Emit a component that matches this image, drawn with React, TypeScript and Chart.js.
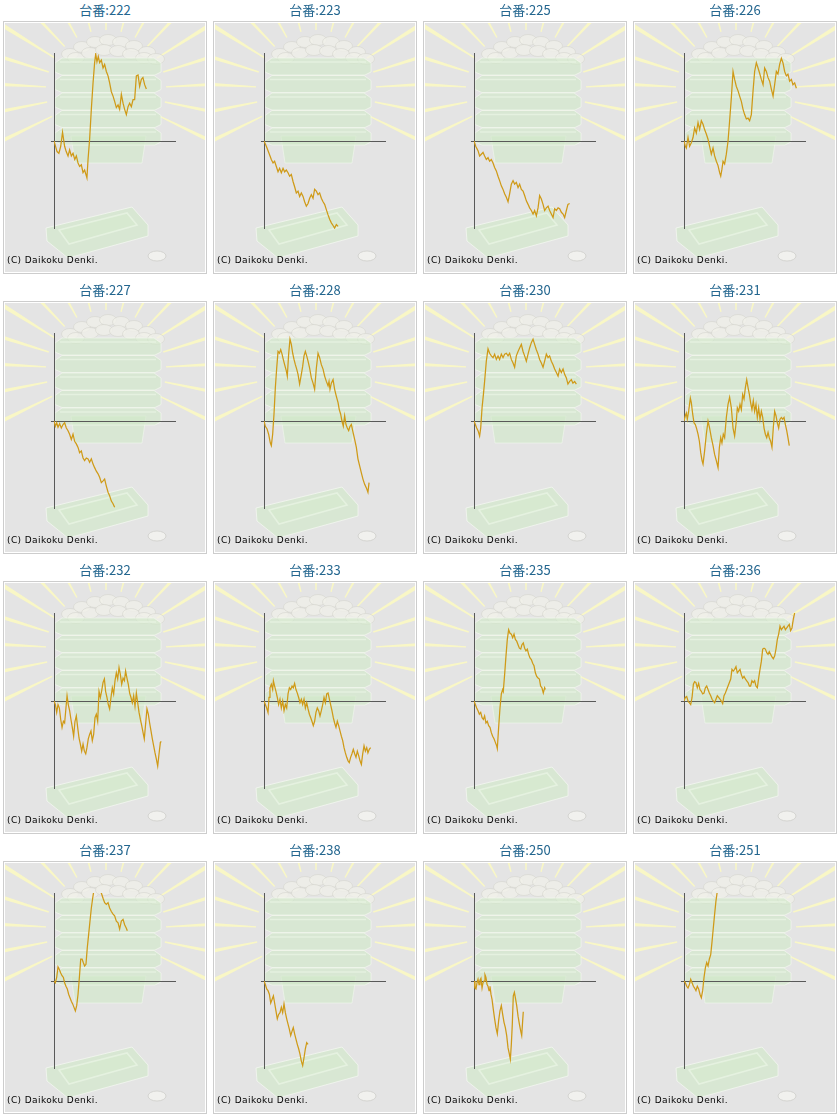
import React, { useEffect, useRef } from 'react'
import { Chart, registerables } from 'chart.js'

Chart.register(...registerables)

// ---------------------------------------------------------------------------
// data: [x, y] per point. x = share of the games axis (0..100),
// y = balance relative to the half height of the axis (-100..100)
// ---------------------------------------------------------------------------

const machineNos = ['222', '223', '225', '226', '227', '228', '230', '231', '232', '233', '235', '236', '237', '238', '250', '251']

const s222: [number, number][] = [[0, 0], [2.5, -12], [4, -14], [5.5, -6], [7, 10], [8.7, -6], [10, -12], [11.5, -17], [12.8, -10], [14.2, -17], [15.6, -14], [17, -21], [18.3, -17], [19.7, -25], [21, -29], [22.4, -27], [23.8, -36], [25.1, -33], [27, -42], [27.9, -21], [29.2, 2], [30.6, 36], [32, 66], [33.3, 89], [34.2, 99], [35.2, 90], [36.3, 96], [37.4, 89], [38.8, 92], [40.2, 83], [41.5, 87], [42.9, 79], [44.3, 74], [45.6, 66], [47, 56], [48.4, 51], [49.7, 45], [51.1, 38], [52.5, 41], [53.8, 36], [55.2, 53], [56.6, 43], [57.9, 36], [59.3, 30], [60.7, 39], [62, 43], [63.4, 39], [64.8, 47], [66.1, 47], [67.5, 74], [68.9, 75], [70.2, 62], [71.6, 70], [72.9, 72], [74.3, 64], [75.7, 59]]
const s223: [number, number][] = [[0, 0], [1.9, -6], [4.1, -14], [6, -21], [7.4, -25], [8.7, -23], [10.1, -29], [11.5, -35], [12.8, -31], [14.2, -36], [15.6, -31], [16.9, -35], [18.3, -33], [19.7, -36], [21, -40], [22.4, -38], [23.8, -46], [25.1, -52], [26.5, -59], [27.9, -57], [29.2, -63], [30.6, -59], [32, -63], [33.3, -69], [34.7, -74], [36.1, -71], [37.4, -65], [38.8, -61], [40.2, -65], [41.5, -55], [42.9, -57], [44.3, -61], [45.6, -59], [47, -65], [48.4, -69], [49.7, -72], [51.1, -78], [52.5, -84], [53.8, -89], [55.2, -93], [56.6, -96], [57.9, -99], [59.3, -95], [60.7, -97]]
const s225: [number, number][] = [[0, 0], [1.4, -6], [3.3, -11], [4.6, -17], [6, -15], [7.4, -13], [8.7, -17], [10.1, -21], [11.5, -19], [12.8, -23], [14.2, -21], [15.6, -25], [16.9, -30], [18.3, -34], [19.7, -40], [21, -45], [22.4, -51], [23.8, -55], [25.1, -60], [26.5, -64], [27.9, -69], [29.2, -60], [30.6, -49], [32, -45], [33.3, -49], [34.7, -47], [36.1, -53], [37.4, -49], [38.8, -55], [40.2, -57], [41.5, -62], [42.9, -68], [44.3, -72], [45.6, -76], [47, -79], [48.4, -83], [49.7, -79], [51.1, -85], [52.5, -76], [53.8, -62], [55.2, -66], [56.6, -72], [57.9, -79], [59.3, -76], [60.7, -74], [62, -79], [63.4, -83], [64.8, -87], [66.1, -77], [67.5, -79], [68.9, -76], [70.2, -77], [71.6, -81], [73, -83], [74.3, -87], [75.7, -79], [77, -72], [78.4, -71]]
const s226: [number, number][] = [[0, 0], [1.1, -6], [1.9, -8], [3.3, 4], [4.6, -6], [6, -2], [7.4, 4], [8.7, 15], [10.1, 9], [11.5, 21], [12.8, 13], [14.2, 23], [15.6, 19], [16.9, 13], [18.3, 8], [19.7, 2], [21, -6], [22.4, -15], [23.8, -8], [25.1, -17], [26.5, -23], [27.9, -28], [29.2, -36], [30.1, -40], [31.1, -32], [32, -23], [33.3, -26], [34.7, -15], [36.1, 0], [37.4, 23], [38.8, 49], [40.2, 79], [41.5, 70], [42.9, 62], [44.3, 57], [45.6, 51], [47, 45], [48.4, 36], [49.7, 30], [51.1, 25], [52.5, 26], [53.8, 23], [55.2, 30], [56.6, 57], [57.9, 79], [59.3, 89], [60.7, 83], [62, 77], [63.4, 70], [64.8, 64], [66.1, 83], [67.5, 79], [68.9, 72], [70.2, 68], [71.6, 59], [73, 51], [74.3, 64], [75.7, 79], [77, 76], [78.4, 87], [79.8, 94], [81.1, 89], [82.5, 79], [83.9, 74], [85.2, 76], [86.6, 68], [88, 70], [89.3, 64], [90.7, 66], [92.1, 60]]
const s227: [number, number][] = [[0, 0], [1.1, -6], [2.2, -2], [3.3, -7], [4.6, -3], [6, -8], [7.4, -4], [8.7, -2], [10.1, -8], [11.5, -11], [12.8, -15], [14.2, -21], [15.6, -15], [16.9, -23], [18.3, -26], [19.7, -30], [21, -36], [22.4, -34], [23.8, -42], [25.1, -45], [26.5, -42], [27.9, -43], [29.2, -47], [30.6, -43], [32, -49], [33.3, -53], [34.7, -57], [36.1, -60], [37.4, -64], [38.8, -70], [40.2, -68], [41.5, -66], [42.9, -74], [44.3, -81], [45.6, -85], [47, -91], [48.4, -94], [49.7, -98]]
const s228: [number, number][] = [[0, 0], [1.1, -6], [2.5, -9], [3.8, -15], [5.2, -25], [6, -28], [7.1, -15], [8.2, 8], [9.3, 38], [10.4, 60], [11.5, 79], [12.6, 77], [13.7, 81], [14.8, 76], [15.8, 70], [16.9, 64], [18.3, 57], [19.1, 51], [20.2, 76], [21.3, 93], [22.4, 87], [23.5, 77], [24.6, 70], [25.7, 64], [26.8, 59], [27.9, 53], [29.2, 42], [30.6, 53], [31.7, 62], [32.8, 74], [33.9, 79], [35, 74], [36.1, 68], [37.4, 60], [38.8, 49], [40.2, 43], [41.5, 36], [42.9, 60], [44.3, 77], [45.6, 72], [47, 64], [48.4, 59], [49.7, 51], [51.1, 45], [52.5, 40], [53.3, 45], [54.1, 36], [55.2, 43], [56.6, 47], [57.9, 36], [59.3, 28], [60.7, 21], [61.7, 13], [62.8, 8], [63.9, 0], [65, -6], [66.1, 6], [67.2, -4], [68.3, -8], [69.4, -11], [70.5, -6], [71.6, -4], [73, -13], [74.3, -21], [75.7, -30], [77, -43], [78.4, -51], [79.8, -59], [81.1, -66], [82.5, -72], [83.9, -76], [85.2, -81], [86.1, -70]]
const s230: [number, number][] = [[0, 0], [1.1, -4], [2.2, -8], [3.3, -11], [4.6, -17], [5.5, -8], [6.6, 15], [7.7, 30], [8.7, 45], [10.1, 68], [11.5, 82], [12.8, 77], [14.2, 74], [15.6, 72], [16.9, 76], [18.3, 70], [19.7, 74], [21, 70], [22.4, 76], [23.8, 72], [25.1, 76], [26.5, 77], [27.9, 74], [29.2, 77], [30.6, 70], [32, 66], [33.3, 61], [34.7, 74], [36.1, 79], [37.4, 83], [38.8, 87], [40.2, 79], [41.5, 74], [42.9, 68], [44.3, 76], [45.6, 83], [47, 89], [48.4, 93], [49.7, 87], [51.1, 81], [52.5, 76], [53.8, 70], [55.2, 66], [56.6, 61], [57.9, 68], [59.3, 76], [60.7, 72], [62, 74], [63.4, 68], [64.8, 64], [66.1, 59], [67.5, 55], [68.9, 51], [70.2, 59], [71.6, 55], [73, 59], [74.3, 53], [75.7, 49], [77, 42], [78.4, 45], [79.8, 47], [81.1, 43], [82.5, 45], [83.9, 42]]
const s231: [number, number][] = [[0, 0], [1.1, 6], [1.9, 9], [2.7, 2], [3.8, 11], [5.2, 26], [6, 21], [7.1, 8], [8.2, -2], [9.3, -4], [10.4, -9], [11.5, -15], [12.6, -23], [13.7, -36], [14.8, -45], [15.6, -49], [16.9, -34], [18.3, -15], [19.7, 0], [21, -8], [22.4, -19], [23.8, -28], [25.1, -38], [26.5, -45], [27.9, -53], [29, -30], [30.1, -19], [31.1, -25], [32.2, -15], [33.3, -19], [34.7, 4], [36.1, 19], [37.4, 27], [38.8, 15], [40.2, -8], [41.5, -17], [42.9, 0], [43.7, 15], [44.8, 11], [45.9, 19], [47, 13], [48.1, 30], [49.2, 25], [50.3, 38], [51.4, 47], [52.5, 38], [53.6, 30], [54.6, 21], [55.7, 13], [56.8, 23], [57.9, 11], [59, 19], [60.1, 4], [61.2, 15], [62.3, 2], [63.4, 11], [64.5, 4], [65.6, -8], [66.7, -15], [67.8, -19], [68.9, -13], [69.9, -19], [71, -23], [72.1, -30], [73.2, -8], [74.3, 11], [75.4, 6], [76.5, -2], [77.6, -8], [78.7, 2], [79.8, 4], [80.9, 2], [82, 4], [83.1, -4], [84.2, -11], [85.2, -19], [86.3, -28]]
const s232: [number, number][] = [[0, 0], [1.1, -4], [2.2, -13], [3.3, -4], [4.4, -8], [5.5, -21], [6.6, -30], [7.7, -23], [8.7, -25], [9.8, -8], [10.7, 6], [11.7, -4], [12.8, -11], [13.9, -21], [15, -30], [16.1, -40], [17.2, -23], [18.3, -17], [19.4, -30], [20.5, -42], [21.6, -49], [22.7, -57], [23.8, -49], [24.9, -57], [26, -60], [27, -53], [28.1, -43], [29.2, -38], [30.3, -34], [31.4, -45], [32.5, -38], [33.6, -19], [34.7, -15], [35.8, -23], [36.9, 11], [38, 4], [39, 11], [40.2, 21], [41.3, 25], [42.3, 11], [43.4, 4], [44.5, -4], [45.6, -9], [46.7, 4], [47.8, 15], [48.9, 8], [50, 23], [51.1, 32], [52.2, 25], [53.3, 38], [54.4, 30], [55.5, 19], [56.6, 26], [57.7, 23], [58.7, 34], [59.8, 26], [60.9, 19], [62, 9], [63.1, 4], [64.2, -2], [65.3, 6], [66.4, -6], [67.5, 9], [68.6, -2], [69.7, -13], [70.8, -21], [71.9, -28], [73, -36], [74, -43], [75.1, -26], [76.2, -9], [77.3, -15], [78.4, -25], [79.5, -34], [80.6, -43], [81.7, -51], [82.8, -59], [83.9, -66], [85, -74], [86.1, -60], [87.2, -47], [88, -46]]
const s233: [number, number][] = [[0, 0], [1.1, -4], [2.2, -8], [3.3, -13], [4.1, 4], [4.9, 15], [6, 19], [7.1, 13], [7.7, 23], [8.7, 17], [9.8, 11], [10.9, 4], [12, -4], [13.1, 2], [14.2, -8], [15.3, 0], [16.4, -11], [17.5, -4], [18.6, -8], [19.7, 8], [20.8, 15], [21.9, 13], [23, 17], [24, 15], [25.1, 20], [26.2, 13], [27.3, 9], [28.4, 4], [29.5, -2], [30.6, 2], [31.7, -4], [32.8, 2], [33.9, -8], [35, -2], [36.1, -9], [37.2, -15], [38.3, -19], [39.3, -23], [40.4, -28], [41.5, -23], [42.6, -13], [43.7, -8], [44.8, -11], [45.9, -17], [47, -11], [48.1, -4], [49.2, 4], [50.3, -2], [51.4, 8], [52.5, 9], [53.6, 2], [54.6, -4], [55.7, -11], [56.8, -19], [57.9, -25], [59, -30], [60.1, -23], [61.2, -28], [62.3, -34], [63.4, -40], [64.5, -45], [65.6, -53], [66.7, -59], [67.8, -64], [68.9, -68], [69.9, -70], [71, -64], [72.1, -60], [73.2, -55], [74.3, -60], [75.4, -64], [76.5, -57], [77.6, -62], [78.7, -68], [79.8, -72], [80.9, -60], [82, -51], [83.1, -57], [84.2, -53], [85.2, -59], [86.3, -55], [87.4, -53]]
const s235: [number, number][] = [[0, 0], [1.1, -4], [2.2, -8], [3.3, -11], [4.4, -15], [5.5, -13], [6.6, -19], [7.7, -21], [8.7, -17], [9.8, -25], [10.9, -23], [12, -28], [13.1, -30], [14.2, -36], [15.3, -40], [16.4, -43], [17.5, -47], [18.6, -51], [19.1, -54], [20.2, -30], [21.3, -8], [22.4, 8], [23.5, 13], [24, 11], [25.1, 30], [26.2, 51], [27.3, 70], [28.4, 81], [29.5, 77], [30.6, 76], [31.7, 72], [32.8, 76], [33.9, 70], [35, 68], [36.1, 64], [37.2, 60], [38.3, 59], [39.3, 64], [40.4, 66], [41.5, 60], [42.6, 57], [43.7, 59], [44.8, 53], [45.9, 49], [47, 47], [48.1, 43], [49.2, 40], [50.3, 32], [51.4, 28], [52.5, 26], [53.6, 25], [54.6, 17], [55.7, 15], [56.8, 9], [57.9, 15], [58.5, 13]]
const s236: [number, number][] = [[0, 0], [1.1, 4], [2.2, 5], [3.3, 0], [4.4, -2], [5.5, -4], [6.6, 4], [7.7, 19], [8.7, 22], [9.8, 21], [10.9, 15], [12, 20], [13.1, 13], [14.2, 11], [15.3, 8], [16.4, 9], [17.5, 15], [18.6, 17], [19.7, 13], [20.8, 9], [21.9, 6], [23, 2], [24, 0], [25.1, -2], [26.2, 2], [27.3, 6], [28.4, 4], [29.5, 2], [30.6, 0], [31.7, -3], [32.8, 6], [33.9, 9], [35, 13], [36.1, 17], [37.2, 21], [38.3, 25], [39.3, 36], [40.4, 34], [41.5, 36], [42.6, 39], [43.7, 32], [44.8, 34], [45.9, 36], [47, 30], [48.1, 26], [49.2, 28], [50.3, 25], [51.4, 23], [52.5, 21], [53.6, 17], [54.6, 17], [55.7, 23], [56.8, 21], [57.9, 23], [59, 17], [60.1, 15], [61.2, 26], [62.3, 36], [63.4, 45], [64.5, 59], [65.6, 60], [66.7, 59], [67.8, 55], [68.9, 53], [69.9, 56], [71, 53], [72.1, 50], [73.2, 48], [74.3, 51], [75.4, 59], [76.5, 70], [77.6, 76], [78.7, 85], [79.8, 81], [80.9, 83], [82, 85], [83.1, 81], [84.2, 83], [85.2, 85], [86.3, 87], [87.4, 80], [88.5, 83], [89.6, 93], [90.7, 100]]
const s237: [number, number][] = [[0, 0], [1.1, -2], [2.2, 4], [3.3, 16], [4.4, 13], [5.5, 9], [6.6, 6], [7.7, 4], [8.7, -2], [9.8, -6], [10.9, -9], [12, -15], [13.1, -19], [14.2, -23], [15.3, -26], [16.4, -30], [17.5, -34], [18.6, -28], [19.7, -15], [20.8, 4], [21.9, 25], [23, 25], [24, 21], [25.1, 17], [26.2, 19], [27.3, 38], [28.4, 53], [29.5, 68], [30.6, 83], [31.7, 94], [32.8, 104], [34.5, 112], [37, 102], [38.8, 100], [40.2, 94], [41.5, 89], [42.9, 87], [44.3, 89], [45.6, 83], [47, 79], [48.4, 76], [49.7, 74], [51.1, 68], [52.5, 66], [53.8, 59], [55.2, 68], [56.6, 70], [57.9, 64], [59.3, 60], [60.1, 57]]
const s238: [number, number][] = [[0, 0], [1.1, -4], [2.2, -9], [3.3, -11], [4.4, -15], [5.5, -25], [6.6, -21], [7.7, -17], [8.7, -25], [9.8, -34], [10.9, -43], [12, -38], [13.1, -36], [14.2, -30], [15.3, -36], [16.4, -26], [17.5, -36], [18.6, -43], [19.7, -49], [20.8, -55], [21.9, -62], [23, -57], [24, -53], [25.1, -60], [26.2, -66], [27.3, -72], [28.4, -77], [29.5, -83], [30.6, -91], [31.7, -96], [32.8, -87], [33.9, -77], [35, -70], [36.1, -72]]
const s250: [number, number][] = [[0, 0], [0.8, -8], [1.6, -9], [2.5, -2], [3.3, 2], [4.1, -4], [4.9, 1], [5.7, 3], [6.6, -8], [7.4, -2], [8.2, 0], [9, 7], [9.8, 4], [10.7, -4], [11.5, -6], [12.3, -11], [13.1, -6], [13.9, -15], [14.8, -21], [15.8, -32], [16.9, -43], [18, -53], [19.1, -60], [20.2, -45], [21.3, -34], [22.4, -28], [23.5, -38], [24.6, -47], [25.7, -53], [26.8, -62], [27.9, -76], [29, -83], [29.8, -89], [30.6, -72], [31.4, -49], [32.2, -17], [33.1, -13], [33.9, -19], [35, -28], [36.1, -40], [37.2, -49], [38.3, -57], [39.1, -62], [39.9, -45], [40.4, -35]]
const s251: [number, number][] = [[0, 0], [1.1, -2], [2.2, -6], [3.3, -8], [4.4, -4], [5.5, 2], [6.6, -2], [7.7, -6], [8.7, -8], [9.8, -11], [10.9, -6], [12, -9], [13.1, -15], [14.2, -19], [15.3, -11], [16.4, 4], [17.5, 15], [18.6, 21], [19.7, 17], [20.8, 25], [21.9, 30], [23, 45], [24, 60], [25.1, 76], [26.2, 91], [27.3, 102], [28.4, 114]]

const seriesList = [s222, s223, s225, s226, s227, s228, s230, s231, s232, s233, s235, s236, s237, s238, s250, s251]

const X_MIN = 0
const X_MAX = 100
const Y_MIN = -100
const Y_MAX = 100

// panel geometry (px). the canvas sits inside the framed box
const PANEL_W = 210
const PANEL_H = 280
const BOX_LEFT = 3
const BOX_TOP = 21
const CANVAS_W = 202
const CANVAS_H = 251

const LINE_COLOR = '#cf9a17'
const AXIS_COLOR = '#595959'

// ---------------------------------------------------------------------------
// backdrop: light rays, stacked medal boxes and a coin (panel coordinates)
// ---------------------------------------------------------------------------

function poly(ctx: CanvasRenderingContext2D, pts: number[][]) {
  ctx.beginPath()
  pts.forEach(([x, y], i) => (i === 0 ? ctx.moveTo(x, y) : ctx.lineTo(x, y)))
  ctx.closePath()
}

const GREEN = 'rgba(208, 233, 200, 0.62)'
const GREEN_RIM = 'rgba(232, 244, 228, 0.8)'

function drawBackdrop(ctx: CanvasRenderingContext2D) {
  ctx.save()
  ctx.fillStyle = '#e4e4e4'
  ctx.fillRect(0, 0, CANVAS_W, CANVAS_H)
  ctx.beginPath()
  ctx.rect(0, 0, CANVAS_W, CANVAS_H)
  ctx.clip()
  // switch to panel coordinates
  ctx.translate(-(BOX_LEFT + 1), -(BOX_TOP + 1))

  // rays
  const cx = 106
  const cy = 90
  ctx.fillStyle = 'rgba(250, 248, 196, 0.95)'
  for (let a = -26; a <= 207; a += 14.5) {
    const t = (a * Math.PI) / 180
    const dx = Math.cos(t)
    const dy = -Math.sin(t)
    const nx = -dy
    const ny = dx
    const r0 = 60
    const r1 = 170
    poly(ctx, [
      [cx + dx * r0 + nx * 0.7, cy + dy * r0 + ny * 0.7],
      [cx + dx * r1 + nx * 3.2, cy + dy * r1 + ny * 3.2],
      [cx + dx * r1 - nx * 3.2, cy + dy * r1 - ny * 3.2],
      [cx + dx * r0 - nx * 0.7, cy + dy * r0 - ny * 0.7],
    ])
    ctx.fill()
  }

  // medals heaped on the top box
  const medals = [
    [70, 54], [82, 47], [95, 42], [108, 40], [121, 42], [134, 46], [147, 52],
    [76, 58], [90, 53], [104, 50], [118, 51], [131, 54], [144, 58], [156, 59],
  ]
  medals.forEach(([mx, my]) => {
    ctx.beginPath()
    ctx.ellipse(mx, my, 8.5, 5.5, 0, 0, Math.PI * 2)
    ctx.fillStyle = 'rgba(240, 240, 234, 0.75)'
    ctx.fill()
    ctx.strokeStyle = 'rgba(214, 214, 206, 0.6)'
    ctx.lineWidth = 1
    ctx.stroke()
  })

  // stacked boxes
  ctx.fillStyle = GREEN
  poly(ctx, [[71, 136], [146, 136], [142, 163], [75, 163]])
  ctx.fill()
  ctx.strokeStyle = 'rgba(242, 248, 238, 0.6)'
  ctx.lineWidth = 1
  ctx.stroke()
  for (let i = 4; i >= 0; i--) {
    const y0 = 58 + i * 17.5
    poly(ctx, [
      [55, y0 + 5], [62, y0], [154, y0], [161, y0 + 5],
      [161, y0 + 14], [155, y0 + 17], [62, y0 + 17], [55, y0 + 14],
    ])
    ctx.fillStyle = GREEN
    ctx.fill()
    ctx.strokeStyle = 'rgba(244, 249, 240, 0.65)'
    ctx.lineWidth = 1
    ctx.stroke()
    ctx.beginPath()
    ctx.moveTo(60, y0 + 4)
    ctx.lineTo(156, y0 + 4)
    ctx.strokeStyle = GREEN_RIM
    ctx.lineWidth = 1.6
    ctx.stroke()
  }

  // single box at the bottom
  poly(ctx, [[46, 228], [132, 207], [148, 225], [148, 236], [68, 258], [47, 241]])
  ctx.fillStyle = GREEN
  ctx.fill()
  ctx.strokeStyle = 'rgba(246, 250, 243, 0.7)'
  ctx.lineWidth = 1
  ctx.stroke()
  poly(ctx, [[59, 230], [127, 213], [137, 225], [69, 244]])
  ctx.fillStyle = 'rgba(214, 236, 206, 0.5)'
  ctx.fill()
  ctx.strokeStyle = GREEN_RIM
  ctx.lineWidth = 1.6
  ctx.stroke()

  // coin
  ctx.beginPath()
  ctx.ellipse(157, 256, 9, 5, 0, 0, Math.PI * 2)
  ctx.fillStyle = 'rgba(242, 242, 238, 0.9)'
  ctx.fill()
  ctx.strokeStyle = 'rgba(206, 206, 202, 0.8)'
  ctx.lineWidth = 1
  ctx.stroke()

  ctx.restore()
}

const backdropPlugin = {
  id: 'backdrop',
  beforeDraw(chart: Chart) {
    drawBackdrop(chart.ctx)
  },
}

// vertical axis at x = 0, horizontal axis at y = 0
const axesPlugin = {
  id: 'zeroAxes',
  beforeDatasetsDraw(chart: Chart) {
    const { ctx, scales } = chart
    const xs = scales.x
    const ys = scales.y
    const x0 = Math.round(xs.getPixelForValue(0)) + 0.5
    const y0 = Math.round(ys.getPixelForValue(0)) + 0.5
    ctx.save()
    ctx.strokeStyle = AXIS_COLOR
    ctx.lineWidth = 1
    ctx.beginPath()
    ctx.moveTo(x0, ys.top)
    ctx.lineTo(x0, ys.bottom)
    ctx.moveTo(xs.getPixelForValue(-2.5), y0)
    ctx.lineTo(xs.getPixelForValue(X_MAX), y0)
    ctx.stroke()
    ctx.restore()
  },
}

// ---------------------------------------------------------------------------
// components
// ---------------------------------------------------------------------------

interface PanelProps {
  machineNo: string
  points: [number, number][]
  left: number
  top: number
}

const Panel: React.FC<PanelProps> = ({ machineNo, points, left, top }) => {
  const canvasRef = useRef<HTMLCanvasElement>(null)

  useEffect(() => {
    if (!canvasRef.current) return
    const chart = new Chart(canvasRef.current, {
      type: 'line',
      data: {
        datasets: [
          {
            data: points.map(([x, y]) => ({ x, y })),
            borderColor: LINE_COLOR,
            borderWidth: 1.25,
            pointRadius: 0,
            tension: 0,
            fill: false,
          },
        ],
      },
      options: {
        animation: false,
        responsive: false,
        events: [],
        layout: { padding: { left: 50, right: 30, top: 31, bottom: 44 } },
        plugins: { legend: { display: false }, tooltip: { enabled: false } },
        scales: {
          x: { type: 'linear', min: X_MIN, max: X_MAX, display: false },
          y: { type: 'linear', min: Y_MIN, max: Y_MAX, display: false },
        },
      },
      plugins: [backdropPlugin, axesPlugin],
    })
    return () => chart.destroy()
  }, [points])

  return (
    <div style={{ position: 'absolute', left, top, width: PANEL_W, height: PANEL_H }}>
      <div
        style={{
          position: 'absolute',
          left: 0,
          top: 1,
          width: PANEL_W,
          textAlign: 'center',
          font: '13px "Noto Sans CJK JP", "DejaVu Sans", sans-serif',
          lineHeight: '18px',
          color: '#23668f',
        }}
      >
        台番:{machineNo}
      </div>
      <div
        style={{
          position: 'absolute',
          left: BOX_LEFT,
          top: BOX_TOP,
          width: CANVAS_W,
          height: CANVAS_H,
          border: '1px solid #cdcdcd',
        }}
      >
        <canvas
          ref={canvasRef}
          width={CANVAS_W}
          height={CANVAS_H}
          style={{ display: 'block', width: CANVAS_W, height: CANVAS_H }}
        />
        <div
          style={{
            position: 'absolute',
            inset: 0,
            boxShadow: 'inset 0 0 0 1px #ffffff',
            pointerEvents: 'none',
          }}
        />
        <div
          style={{
            position: 'absolute',
            left: 3,
            top: 233,
            font: '9px "DejaVu Sans", Verdana, sans-serif',
            letterSpacing: '0.4px',
            lineHeight: '11px',
            color: '#000000',
            whiteSpace: 'nowrap',
          }}
        >
          (C) Daikoku Denki.
        </div>
      </div>
    </div>
  )
}

export default function App() {
  return (
    <div style={{ position: 'absolute', left: 0, top: 0, width: 840, height: 1120, background: '#ffffff' }}>
      {machineNos.map((no, i) => (
        <Panel
          key={no}
          machineNo={no}
          points={seriesList[i]}
          left={(i % 4) * PANEL_W}
          top={Math.floor(i / 4) * PANEL_H}
        />
      ))}
    </div>
  )
}
